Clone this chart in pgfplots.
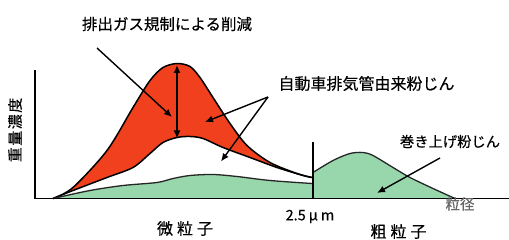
\documentclass[border=0pt]{standalone}
\usepackage{pgfplots}
\pgfplotsset{compat=1.18}
\usepackage{fontspec}
\setmainfont{Noto Sans CJK JP}[FakeBold=0.4]
\usetikzlibrary{arrows.meta}
\definecolor{redfill}{RGB}{240,64,30}
\definecolor{greenfill}{RGB}{152,214,172}
\newcommand{\fs}[1]{\fontsize{#1}{#1}\selectfont}
\begin{document}
\begin{tikzpicture}
\begin{axis}[hide axis, scale only axis, width=509pt, height=240pt,
  xmin=0, xmax=509, ymin=-41.5, ymax=198.5, clip=false,
  every node/.style={inner sep=0pt}]
% red (upper) area
\addplot[fill=redfill, draw=none, smooth] coordinates {
 (53,0) (73,11) (107,48) (133,91) (150,118) (163,131) (177,135) (190,132) (200,121) (213,101) (230,75) (247,53) (270,36) (297,25) (312,21)} \closedcycle;
% white (lower) area
\addplot[fill=white, draw=none, smooth] coordinates {
 (53,0) (73,8) (107,21) (133,31) (150,45) (163,56) (177,61) (190,62) (203,60) (223,51) (250,41) (277,31) (303,23) (312,21)} \closedcycle;
% fine green
\addplot[fill=greenfill, draw=none, smooth] coordinates {
 (53,0) (90,8) (123,13) (157,16) (173,20) (190,23) (213,24) (237,22) (270,18) (312,15)} \closedcycle;
% coarse green
\addplot[fill=greenfill, draw=none, smooth] coordinates {
 (313,26) (333,38) (350,45) (363,46) (373,43) (393,31) (410,21) (433,10) (455,0)} \closedcycle;
% strokes
\addplot[black, line width=1.5pt, smooth] coordinates {
 (53,0) (73,11) (107,48) (133,91) (150,118) (163,131) (177,135) (190,132) (200,121) (213,101) (230,75) (247,53) (270,36) (297,25) (312,21)};
\addplot[black, line width=1.5pt, smooth] coordinates {
 (53,0) (73,8) (107,21) (133,31) (150,45) (163,56) (177,61) (190,62) (203,60) (223,51) (250,41) (277,31) (303,23) (312,21)};
\addplot[black!85, line width=1.3pt, smooth] coordinates {
 (53,0) (90,8) (123,13) (157,16) (173,20) (190,23) (213,24) (237,22) (270,18) (312,15)};
\addplot[black!85, line width=1.3pt, smooth] coordinates {
 (313,26) (333,38) (350,45) (363,46) (373,43) (393,31) (410,21) (433,10) (455,0)};
% axes lines
\addplot[black, line width=1.7pt] coordinates {(35,128) (35,0) (509,0)};
\addplot[black, line width=1.2pt] coordinates {(313,56) (313,0)};
% arrows
\addplot[black, line width=1.4pt, -{Latex[length=8pt,width=7pt]}] coordinates {(97,150.5) (172,81.5)};
\addplot[black, line width=1.6pt, {Latex[length=8pt,width=7pt]}-{Latex[length=8pt,width=7pt]}] coordinates {(177,133.5) (177,60)};
\addplot[black, line width=1.4pt, -{Latex[length=8pt,width=7pt]}] coordinates {(268,101.5) (205,76.5)};
\addplot[black, line width=1.4pt, -{Latex[length=8pt,width=7pt]}] coordinates {(268,101.5) (221,37)};
\addplot[black, line width=1.4pt, -{Latex[length=8pt,width=7pt]}] coordinates {(440,40.5) (377,5.5)};
% texts
\node at (axis cs:167,174.5) {\fs{15.5pt}排出ガス規制による削減};
\node at (axis cs:366.5,115) {\fs{16pt}自動車排気管由来粉じん};
\node at (axis cs:450,57) {\fs{14.3pt}巻き上げ粉じん};
\node[rotate=90] at (axis cs:15,68.5) {\fs{15pt}重\hspace{1.5pt}量\hspace{1.5pt}濃\hspace{1.5pt}度};
\node at (axis cs:185,-30) {\fs{16pt}微\hspace{4pt}粒\hspace{4pt}子};
\node at (axis cs:310,-18) {\fs{14.5pt}2.5\hspace{3pt}μ\hspace{3pt}m};
\node at (axis cs:398.5,-33) {\fs{16pt}粗\hspace{4pt}粒\hspace{4pt}子};
\node[text=black!60] at (axis cs:460,-5.5) {\fs{14.5pt}粒径};
\end{axis}
\pgfresetboundingbox
\path (current axis.south west) rectangle (current axis.north east);
\end{tikzpicture}
\end{document}
